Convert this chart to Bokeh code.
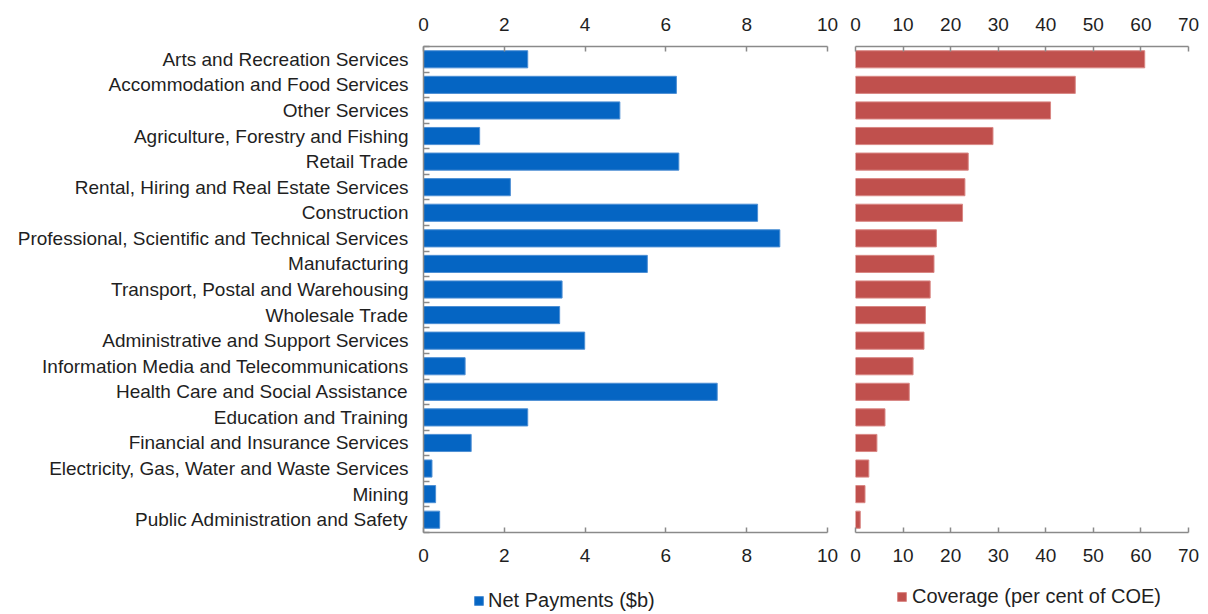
from bokeh.plotting import figure
from bokeh.models import Range1d, LinearAxis, FixedTicker, Legend, LegendItem
from bokeh.layouts import row, column
from bokeh.embed import file_html
from bokeh.resources import INLINE

industries = [
    "Arts and Recreation Services",
    "Accommodation and Food Services",
    "Other Services",
    "Agriculture, Forestry and Fishing",
    "Retail Trade",
    "Rental, Hiring and Real Estate Services",
    "Construction",
    "Professional, Scientific and Technical Services",
    "Manufacturing",
    "Transport, Postal and Warehousing",
    "Wholesale Trade",
    "Administrative and Support Services",
    "Information Media and Telecommunications",
    "Health Care and Social Assistance",
    "Education and Training",
    "Financial and Insurance Services",
    "Electricity, Gas, Water and Waste Services",
    "Mining",
    "Public Administration and Safety",
]
net_payments = [2.58, 6.26, 4.86, 1.39, 6.32, 2.15, 8.27, 8.82, 5.54, 3.43,
                3.37, 3.99, 1.03, 7.27, 2.58, 1.18, 0.21, 0.30, 0.40]
coverage = [60.8, 46.2, 41.0, 28.9, 23.7, 23.0, 22.5, 17.0, 16.5, 15.7,
            14.7, 14.4, 12.1, 11.3, 6.2, 4.5, 2.8, 2.0, 1.0]
left_ticks = [0, 2, 4, 6, 8, 10]
right_ticks = [0, 10, 20, 30, 40, 50, 60, 70]

FONT = "Liberation Sans"
TXT = "#1f1f1f"
AX = "#8a8a8a"
BLUE = "#0565C3"
BLUE_EDGE = "#4d8fd4"
RED = "#C0504D"
RED_EDGE = "#d98784"

n = len(industries)
ypos = [n - 1 - i for i in range(n)]
y_range = Range1d(-0.5, n - 0.5)

H = 580
TOP = 46
BOTTOM = H - TOP - 486
LH = 32


def style_x_axis(ax, ticks):
    ax.ticker = FixedTicker(ticks=ticks)
    ax.axis_line_color = AX
    ax.axis_line_width = 1.5
    ax.major_tick_line_color = AX
    ax.major_tick_line_width = 1.5
    ax.major_tick_in = 5
    ax.major_tick_out = 0
    ax.minor_tick_line_color = None
    ax.major_label_standoff = 16
    ax.major_label_text_font = FONT
    ax.major_label_text_font_size = "19px"
    ax.major_label_text_color = TXT


def legend_fig(width, label, values, xmax, color, edge, x, y, standoff):
    # the legend sits in its own strip under the panel; its renderer repeats
    # the panel's series but is hidden, so only the legend swatch shows
    q = figure(width=width, height=LH, x_range=Range1d(0, xmax), y_range=Range1d(-0.5, n - 0.5),
               x_axis_location=None, y_axis_location=None,
               output_backend="svg", toolbar_location=None, min_border=0)
    q.outline_line_color = None
    q.xgrid.visible = False
    q.ygrid.visible = False
    r = q.hbar(y=ypos, right=values, left=0, height=0.67,
               fill_color=color, line_color=edge, line_width=1, visible=False)
    leg = Legend(items=[LegendItem(label=label, renderers=[r])],
                 location=(x, y), orientation="horizontal",
                 glyph_width=11, glyph_height=11, label_standoff=standoff,
                 padding=0, margin=0, spacing=0,
                 border_line_color=None, background_fill_alpha=0,
                 inactive_fill_alpha=0,
                 label_text_font=FONT, label_text_font_size="20px",
                 label_text_color=TXT)
    q.add_layout(leg, "center")
    return q


# ---------- left panel ----------
p1 = figure(width=840, height=H, x_range=Range1d(0, 10), y_range=y_range,
            x_axis_location="above", output_backend="svg", toolbar_location=None,
            min_border_left=423, min_border_right=13, min_border_top=TOP,
            min_border_bottom=BOTTOM)
p1.outline_line_color = None
p1.xgrid.visible = False
p1.ygrid.visible = False
p1.hbar(y=ypos, right=net_payments, left=0, height=0.67,
        fill_color=BLUE, line_color=BLUE_EDGE, line_width=1)
style_x_axis(p1.xaxis[0], left_ticks)
bax1 = LinearAxis()
style_x_axis(bax1, left_ticks)
p1.add_layout(bax1, "below")

yax = p1.yaxis[0]
yax.ticker = FixedTicker(ticks=ypos, minor_ticks=[i - 0.5 for i in range(n + 1)])
yax.major_label_overrides = {y: lab for y, lab in zip(ypos, industries)}
yax.axis_line_color = AX
yax.axis_line_width = 1.5
yax.major_tick_line_color = None
yax.major_tick_in = 0
yax.major_tick_out = 0
yax.minor_tick_line_color = AX
yax.minor_tick_line_width = 1.5
yax.minor_tick_in = 6
yax.minor_tick_out = 0
yax.major_label_standoff = 15
yax.major_label_text_font = FONT
yax.major_label_text_font_size = "19px"
yax.major_label_text_color = TXT

# ---------- right panel ----------
p2 = figure(width=360, height=H, x_range=Range1d(0, 70), y_range=y_range,
            x_axis_location="above", y_axis_location=None,
            output_backend="svg", toolbar_location=None,
            min_border_left=15, min_border_right=12, min_border_top=TOP,
            min_border_bottom=BOTTOM)
p2.outline_line_color = None
p2.xgrid.visible = False
p2.ygrid.visible = False
p2.hbar(y=ypos, right=coverage, left=0, height=0.67,
        fill_color=RED, line_color=RED_EDGE, line_width=1)
style_x_axis(p2.xaxis[0], right_ticks)
bax2 = LinearAxis()
style_x_axis(bax2, right_ticks)
p2.add_layout(bax2, "below")

# ---------- legends ----------
q1 = legend_fig(840, "Net Payments ($b)", net_payments, 10, BLUE, BLUE_EDGE, 473, 0, 4)
q2 = legend_fig(360, "Coverage (per cent of COE)", coverage, 70, RED, RED_EDGE, 56, 4, 5)

layout = column(row(p1, p2), row(q1, q2))
open("out.html", "w").write(file_html(layout, INLINE))
